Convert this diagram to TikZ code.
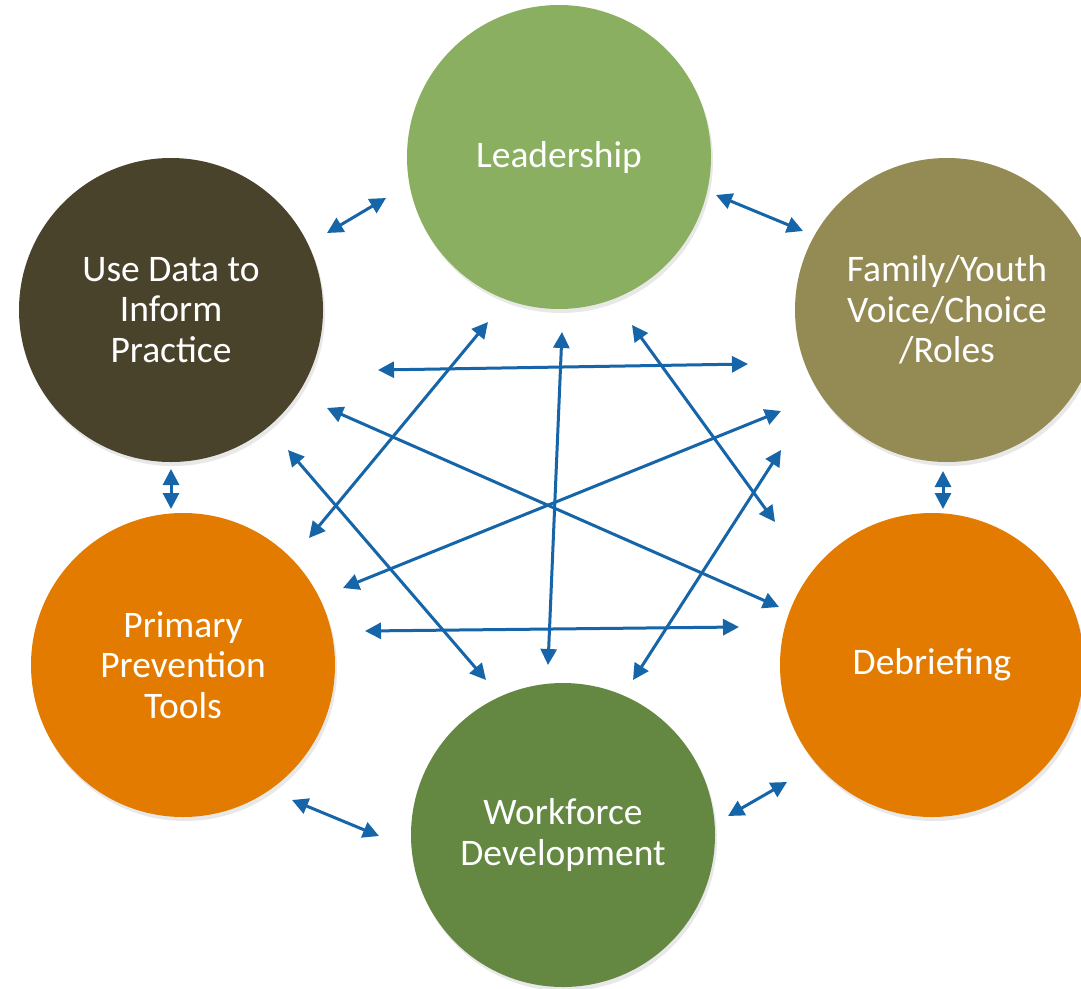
\documentclass[tikz,border=0pt]{standalone}
\usepackage{fontspec}
\setmainfont{Carlito}
\usetikzlibrary{arrows.meta,shadows}
\definecolor{leadG}{HTML}{8AAF60}
\definecolor{famO}{HTML}{948A54}
\definecolor{dataB}{HTML}{4A432C}
\definecolor{orng}{HTML}{E27B00}
\definecolor{workG}{HTML}{648842}
\definecolor{arr}{HTML}{1565A8}
\tikzset{
  bubble/.style={circle, minimum size=304pt, inner sep=0pt, align=center,
    text=white, font=\fontsize{37.5}{40.5}\selectfont,
    drop shadow={opacity=0.18, shadow xshift=2pt, shadow yshift=-4pt}},
  link/.style={draw=arr, line width=3pt,
    {Triangle[length=16pt,width=16pt]}-{Triangle[length=16pt,width=16pt]}}
}
\begin{document}
\begin{tikzpicture}[x=1pt,y=-1pt]
\useasboundingbox (0,0) rectangle (1081,988);
\clip (0,0) rectangle (1081,988);
\fill[white] (0,0) rectangle (1081,988);
% circles
\node[bubble, fill=leadG] (lead) at (559,157) {Leadership};
\node[bubble, fill=famO] (fam) at (947,310) {Family/Youth\\Voice/Choice\\/Roles};
\node[bubble, fill=orng] (deb) at (932,665) {Debriefing};
\node[bubble, fill=workG] (work) at (563,835) {Workforce\\Development};
\node[bubble, fill=orng] (prim) at (183,665) {Primary\\Prevention\\Tools};
\node[bubble, fill=dataB] (data) at (171,310) {Use Data to\\Inform\\Practice};
% connector end points
\coordinate (a1) at (327,233); \coordinate (b1) at (386,198);
\coordinate (a2) at (716,195); \coordinate (b2) at (803,231);
\coordinate (a3) at (171,469); \coordinate (b3) at (171,509);
\coordinate (a4) at (943,471); \coordinate (b4) at (943,509);
\coordinate (a5) at (292,800); \coordinate (b5) at (379,836);
\coordinate (a6) at (728,816); \coordinate (b6) at (787,782);
\coordinate (a7) at (378,370); \coordinate (b7) at (748,364);
\coordinate (a8) at (365,631); \coordinate (b8) at (739,627);
\coordinate (a9) at (562,332); \coordinate (b9) at (548,665);
\coordinate (a10) at (488,322); \coordinate (b10) at (309,538);
\coordinate (a11) at (632,325); \coordinate (b11) at (775,522);
\coordinate (a12) at (327,408); \coordinate (b12) at (779,607);
\coordinate (a13) at (288,450); \coordinate (b13) at (486,680);
\coordinate (a14) at (781,411); \coordinate (b14) at (343,588);
\coordinate (a15) at (781,450); \coordinate (b15) at (633,680);
% connectors
\foreach \i in {1,...,15}{\draw[link] (a\i) -- (b\i);}
\end{tikzpicture}
\end{document}
